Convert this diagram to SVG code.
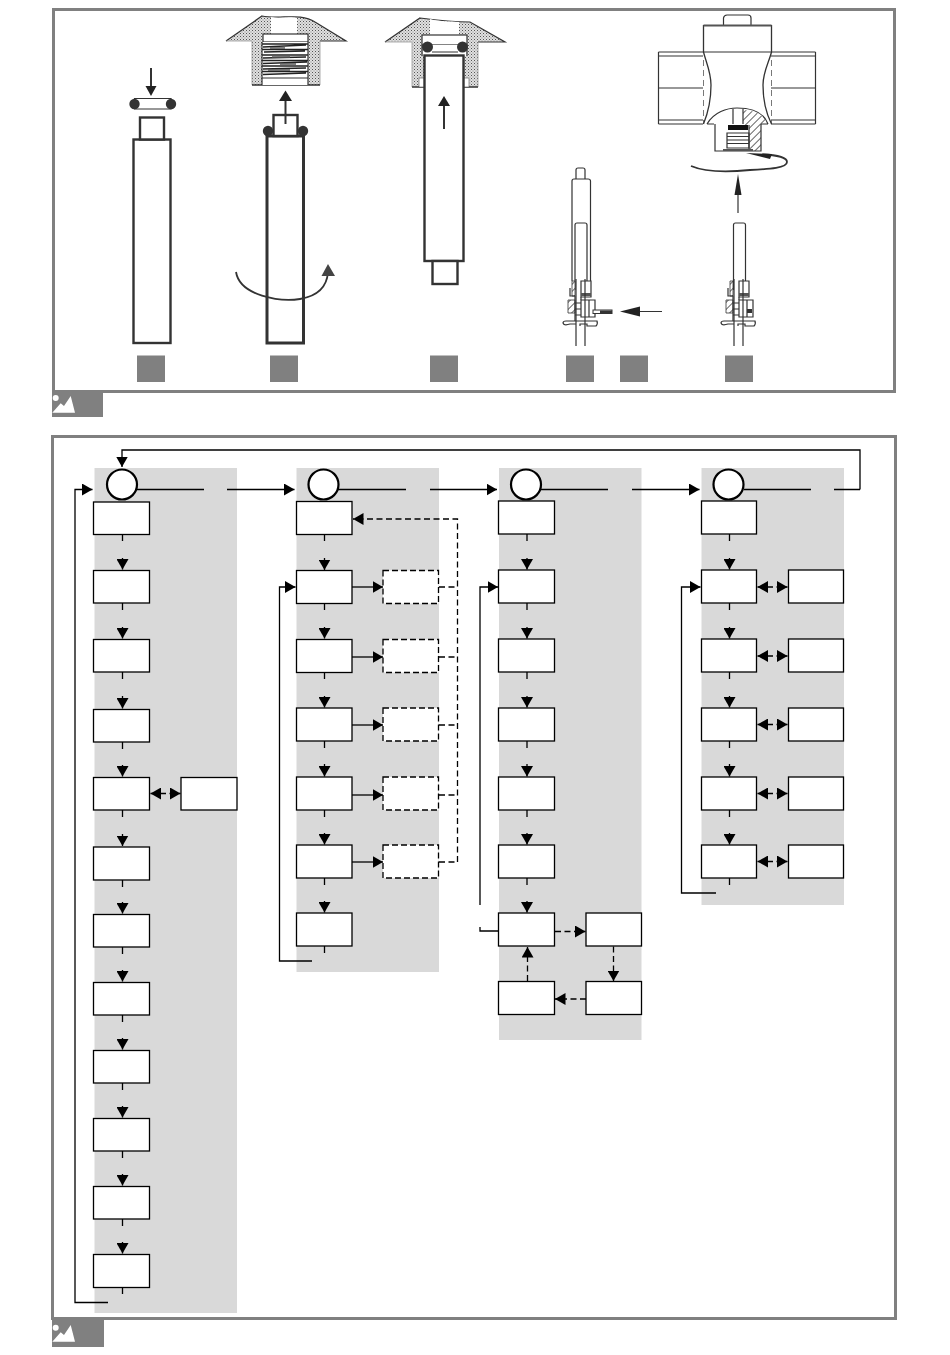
<svg xmlns="http://www.w3.org/2000/svg" width="950" height="1355" viewBox="0 0 950 1355">
<style>
.frame{fill:none;stroke:#808080;stroke-width:3}
.badge{fill:#808080}
.lane{fill:#d9d9d9}
.b{fill:#fff;stroke:#000;stroke-width:1.3}
.bd{fill:#fff;stroke:#000;stroke-width:1.3;stroke-dasharray:6 3}
.o{fill:#fff;stroke:#000;stroke-width:2.2}
.c{fill:none;stroke:#000;stroke-width:1.3}
.d{fill:none;stroke:#000;stroke-width:1.3;stroke-dasharray:6 3.5}
.a{marker-end:url(#ah)}
.aa{marker-start:url(#ah);marker-end:url(#ah)}
.t{fill:#fff;stroke:#333;stroke-width:2.4}
.l{fill:none;stroke:#333;stroke-width:1.2}
.lw{fill:#fff;stroke:#333;stroke-width:1.2}
.st{fill:url(#stip);stroke:none}
.dot{fill:#333}
.k{fill:#222;stroke:none}
.g{fill:none;stroke:#333;stroke-width:2}
.sq{fill:#808080}
</style>
<defs>
<marker id="ah" markerUnits="userSpaceOnUse" markerWidth="11" markerHeight="12" refX="10.5" refY="6" orient="auto-start-reverse"><path d="M0 0L10.500 6L0 12z" fill="#000"/></marker>
<pattern id="stip" width="3" height="3" patternUnits="userSpaceOnUse"><rect width="3" height="3" fill="#e0e0e0"/><rect width="1" height="1" fill="#555"/><rect x="1.500" y="1.500" width="1" height="1" fill="#888"/></pattern>
<pattern id="hat" width="5" height="5" patternUnits="userSpaceOnUse" patternTransform="rotate(-45)"><rect width="5" height="5" fill="#fff"/><rect width="5" height="1" fill="#666"/></pattern>
<g id="fit">
<path d="M572 281h3v15h-3zM568 300h7v13h-7z" fill="url(#hat)" stroke="#333" stroke-width=".8"/>
<path class="lw" d="M581 281h10v16h-10z"/>
<path class="l" d="M570 288v8h5M575 296v25M581 297v3"/>
<rect x="581" y="293" width="10" height="3" fill="#555"/>
<path class="lw" d="M581 300h14v17h-14z"/>
<path class="l" d="M575 303h6M575 309h6M575 315h6M589 300v17"/>
<path class="lw" d="M566 321h31q1 3-1 5h-9v-2h-7v2M576 324h-6q-6 2-7-1q0-2 3-2"/>
<path class="l" d="M576 279V346M585 279V346"/>
</g>
</defs>

<g id="figure-1">
<rect class="frame" x="53.500" y="9.500" width="841" height="382"/>
<rect x="52" y="392" width="51" height="25" class="badge"/><circle cx="55.700" cy="398" r="3" fill="#fff"/><path d="M52.300 412.700L60.700 403.300L64 406L70.700 396L75 412.700z" fill="#fff"/>
</g>

<g id="step-1">
<rect class="sq" x="137" y="355.500" width="28" height="26.500"/>
<rect class="t" x="133.500" y="139.500" width="37" height="203.500"/>
<rect class="t" x="140" y="117.500" width="24" height="22"/>
<path class="lw" d="M134.500 98.500H171V109H134.500z"/>
<circle class="dot" cx="134.500" cy="104" r="5.200"/><circle class="dot" cx="171" cy="104" r="5.200"/>
<path class="g" d="M151 68V88"/><path class="k" d="M145.500 86H156.500L151 96z"/>
</g>

<g id="step-2">
<rect class="sq" x="270" y="355.500" width="28" height="26.500"/>
<rect fill="#fff" stroke="#333" stroke-width="3" x="267" y="136" width="36.500" height="207"/>
<rect class="t" x="273.500" y="115" width="24" height="21"/>
<circle class="dot" cx="268" cy="131" r="5.200"/><circle class="dot" cx="303" cy="131" r="5.200"/>
<path class="g" d="M285.500 124V100" stroke-width="2.500"/><path class="k" d="M279 101H292L285.500 90.500z"/>
<path d="M226 41L262 16C280 20 300 12 315 22L346 41H320V85H252V41z" class="st"/>
<path class="l" d="M226 41L262 16C280 20 300 12 315 22L346 41H320"/>
<path d="M252 41H226M252 41V85M320 41V85" stroke="#999" stroke-width=".8" fill="none"/>
<path d="M252 85H320" stroke="#333" stroke-width="1.400"/>
<path d="M271 17C280 19 290 16 297 18V35H271z" fill="#fff"/>
<rect class="lw" x="263" y="34" width="45" height="8"/>
<rect x="262" y="42" width="46" height="36" fill="#fff"/>
<path d="M262 44H308M263 47L306 45M262 49.500H308M264 52L305 51M262 55H308M263 58L306 57M262 60.500H308M263 63.500L307 62M262 66H308M263 69L306 68M262 71.500H308M263 74.500L306 73" fill="none" stroke="#222" stroke-width="1.300"/>
<path d="M270 48H285M272 57H290M280 64H296M268 70H290" stroke="#555" stroke-width="1.500"/>
<rect x="262" y="78" width="46" height="7" fill="#fff"/>
<path class="l" d="M262 78H308M262 42V85M308 42V85"/>
<path class="l" d="M236 272C240 296 280 302 300 299C318 296 327 286 328 272" style="stroke-width:1.800"/>
<path d="M321.500 276H335L328 264z" fill="#444"/>
</g>

<g id="step-3">
<rect class="sq" x="430" y="355.500" width="28" height="26.500"/>
<path d="M385 42L420 18C435 20 455 22 470 22L505 42H478V87H412V42z" class="st"/>
<path class="l" d="M385 42L420 18C435 20 455 22 470 22L505 42H478"/>
<path d="M385 42H412M412 42V87M478 42V87" stroke="#999" stroke-width=".8" fill="none"/>
<path d="M412 87H478" stroke="#333" stroke-width="1.400"/>
<path d="M430 19C440 22 450 21 459 22V35H430z" fill="#fff"/>
<rect x="419" y="78" width="6" height="9" fill="#fff" stroke="#555" stroke-width=".6"/><rect x="463" y="78" width="6" height="9" fill="#fff" stroke="#555" stroke-width=".6"/>
<rect class="lw" x="422" y="35" width="45" height="10"/>
<rect x="423" y="45" width="43" height="11" fill="#fff"/>
<path class="l" d="M422 45V56M467 45V56M432 52H458"/>
<circle class="dot" cx="427.500" cy="47" r="5.500"/><circle class="dot" cx="462.500" cy="47" r="5.500"/>
<rect class="t" x="424.500" y="55.500" width="39" height="205.500"/>
<rect class="t" x="432.500" y="261" width="25" height="23"/>
<path class="g" d="M444 129V105" stroke-width="2.500"/><path class="k" d="M438 106H450L444 96z"/>
</g>

<g id="step-4">
<rect class="sq" x="566" y="355.500" width="28" height="26.500"/>
<rect class="sq" x="620" y="355.500" width="28" height="26.500"/>
<path class="l" d="M576 179V170Q576 168 578 168H583Q585 168 585 170V179"/>
<path class="lw" d="M572 281V181Q572 179 574 179H588Q590.500 179 590.500 181V281"/>
<path class="lw" d="M575 290V225Q575 223 577 223H585Q587 223 587 225V281"/>
<use href="#fit"/>
<rect x="593" y="310" width="19" height="3.500" fill="#fff" stroke="#333" stroke-width="1"/>
<rect x="600" y="310.500" width="12" height="2.500" fill="#333"/>
<path class="l" d="M662 311.500H625"/><path class="k" d="M620 311.500L640 306.500V316.500z"/>
</g>

<g id="step-5">
<rect class="sq" x="725" y="355.500" width="28" height="26.500"/>
<path class="lw" d="M733.500 290V225Q733.500 223 735.500 223H743.500Q745.500 223 745.500 225V281"/>
<use href="#fit" x="158"/>
<rect x="747" y="309" width="5" height="4" fill="#333"/>
<path d="M703.500 25H771.500V52H703.500z" fill="#fff"/>
<path class="l" d="M723.500 25V18Q724 15 727 15H748Q751 15 751 18V25"/>
<path class="l" d="M658.500 52H703M658.500 56H703M658.500 88H703M658.500 120H703M658.500 124H703M658.500 52V124M771 52H815.500M771 56H815.500M771 88H815.500M771 120H815.500M771 124H815.500M815.500 52V124"/>
<path d="M703.500 60V124M771.500 60V124" fill="none" stroke="#555" stroke-width=".8" stroke-dasharray="6 4"/>
<path class="l" d="M703.500 25V52C706 62 711 72 711 85C711 100 708 113 703.500 124M771.500 25V52C769 62 763 72 763 85C763 100 766 113 771.500 124" style="stroke-width:1.300"/>
<path d="M703.500 52H771.500" stroke="#333" stroke-width="1.200"/>
<rect x="703.500" y="24.500" width="68" height="2" fill="#555"/>
<path d="M743 110C754 110 764 115 768 124H761V151H749V125H743z" fill="url(#hat)"/>
<path class="l" d="M707 124C714 112 727 108 737 108C752 108 764 113 768 124M714 124H707M761 124H768M715 124V151H761V124M749 125V151M733 109V124M743 109V124"/>
<rect x="728" y="125" width="20" height="5" fill="#111"/>
<path class="l" d="M727 133H749V148H727zM727 136.500H749M727 140H749M727 143.500H749"/>
<rect x="723" y="149" width="30" height="2" fill="#555"/>
<path class="l" d="M691 166C705 172 730 172 750 170C770 169 787 168 787 162C787 158 778 155 762 154.500" style="stroke-width:1.800"/>
<path class="k" d="M746 153L772 154L770 159z"/>
<path class="l" d="M738 213V190"/><path class="k" d="M738 174L741.500 195H734.500z"/>
</g>

<g id="figure-2">
<rect class="frame" x="52.500" y="436.500" width="843" height="882"/>
<rect x="52" y="1320" width="52" height="27" class="badge"/>
<circle cx="55.700" cy="1327.700" r="3" fill="#fff"/><path d="M52.300 1341.700L60.700 1332.300L64 1335L70.700 1325L75 1341.700z" fill="#fff"/>
</g>

<g id="lanes">
<rect class="lane" x="94.500" y="468" width="142.500" height="845"/>
<rect class="lane" x="296.500" y="468" width="142.500" height="504"/>
<rect class="lane" x="499" y="468" width="142.500" height="572"/>
<rect class="lane" x="701.500" y="468" width="142.500" height="437"/>
</g>

<g id="connectors">
<path class="c a" d="M860 489.500V450H122V467"/>
<path class="c" d="M137 489.500H204"/><path class="c a" d="M227 489.500H294.500"/>
<path class="c" d="M338 489.500H406"/><path class="c a" d="M430 489.500H497"/>
<path class="c" d="M541 489.500H608"/><path class="c a" d="M632 489.500H699.500"/>
<path class="c" d="M744 489.500H811M834 489.500H860"/>
<path class="c a" d="M108 1302.500H75V489.500H92.500"/>
<path class="c a" d="M312 961H279.500V587H295.500"/>
<path class="c a" d="M480 905V587H498"/>
<path class="c" d="M498.500 931H480V927"/>
<path class="c a" d="M716 893H681.500V587H700.500"/>

<path class="c a" d="M122.500 534V541M122.500 558V569.500"/>
<path class="c a" d="M122.500 603V610M122.500 627V638.500"/>
<path class="c a" d="M122.500 672V679M122.500 696V708.500"/>
<path class="c a" d="M122.500 742V749M122.500 765V776.500"/>
<path class="c a" d="M122.500 810V817M122.500 834V846"/>
<path class="c a" d="M122.500 880V887M122.500 902V913.500"/>
<path class="c a" d="M122.500 947V954M122.500 970V981.500"/>
<path class="c a" d="M122.500 1015V1022M122.500 1038V1049.500"/>
<path class="c a" d="M122.500 1083V1090M122.500 1106V1117.500"/>
<path class="c a" d="M122.500 1151V1158M122.500 1174V1185.500"/>
<path class="c a" d="M122.500 1219V1226M122.500 1242V1253.500"/>
<path class="c" d="M122.500 1287.500V1294"/>
<path class="d aa" d="M150.500 793.500H180.500"/>

<path class="c a" d="M324.500 534.500V541M324.500 558V570"/>
<path class="c a" d="M324.500 603.500V610M324.500 627V638.500"/>
<path class="c a" d="M324.500 672.500V679M324.500 696V707.500"/>
<path class="c a" d="M324.500 741V748M324.500 764V776.500"/>
<path class="c a" d="M324.500 810V817M324.500 833V844.500"/>
<path class="c a" d="M324.500 878V885M324.500 901V912.500"/>
<path class="c" d="M324.500 946V953"/>
<path class="c a" d="M352 587H383"/><path class="c a" d="M352 657H383"/><path class="c a" d="M352 725H383"/><path class="c a" d="M352 795H383"/><path class="c a" d="M352 862H383"/>
<path class="d" d="M439 587H457.500M439 657H457.500M439 725H457.500M439 795H457.500M439 862H457.500"/>
<path class="d a" d="M457.500 862V519H353"/>

<path class="c a" d="M527 534V541M527 558V569.500"/>
<path class="c a" d="M527 603V610M527 627V638.500"/>
<path class="c a" d="M527 672V679M527 696V707.500"/>
<path class="c a" d="M527 741V748M527 764V776.500"/>
<path class="c a" d="M527 810V817M527 833V844.500"/>
<path class="c a" d="M527 878V885M527 901V912.500"/>
<path class="d a" d="M555 931.500H585.500"/>
<path class="d a" d="M613.500 946.500V981"/>
<path class="d a" d="M586 999H555"/>
<path class="d a" d="M527.500 981V947"/>

<path class="c a" d="M729.500 534V541M729.500 558V569.500"/>
<path class="c a" d="M729.500 603V610M729.500 627V638.500"/>
<path class="c a" d="M729.500 672V679M729.500 696V707.500"/>
<path class="c a" d="M729.500 741V748M729.500 764V776.500"/>
<path class="c a" d="M729.500 810V817M729.500 833V844.500"/>
<path class="c" d="M729.500 878V885"/>
<path class="d aa" d="M757.500 587H787.500"/><path class="d aa" d="M757.500 656H787.500"/><path class="d aa" d="M757.500 724.500H787.500"/><path class="d aa" d="M757.500 793.500H787.500"/><path class="d aa" d="M757.500 861.500H787.500"/>
</g>

<g id="n-a"><circle class="o" cx="122" cy="484.500" r="15"/></g>
<g id="n-a1"><rect class="b" x="93.500" y="502" width="56" height="32.500"/></g>
<g id="n-a2"><rect class="b" x="93.500" y="570.500" width="56" height="32.500"/></g>
<g id="n-a3"><rect class="b" x="93.500" y="639.500" width="56" height="32.500"/></g>
<g id="n-a4"><rect class="b" x="93.500" y="709.500" width="56" height="32.500"/></g>
<g id="n-a5"><rect class="b" x="93.500" y="777.500" width="56" height="32.500"/></g>
<g id="n-a5s"><rect class="b" x="181" y="777.500" width="56" height="32.500"/></g>
<g id="n-a6"><rect class="b" x="93.500" y="847" width="56" height="33"/></g>
<g id="n-a7"><rect class="b" x="93.500" y="914.500" width="56" height="32.500"/></g>
<g id="n-a8"><rect class="b" x="93.500" y="982.500" width="56" height="32.500"/></g>
<g id="n-a9"><rect class="b" x="93.500" y="1050.500" width="56" height="32.500"/></g>
<g id="n-a10"><rect class="b" x="93.500" y="1118.500" width="56" height="32.500"/></g>
<g id="n-a11"><rect class="b" x="93.500" y="1186.500" width="56" height="32.500"/></g>
<g id="n-a12"><rect class="b" x="93.500" y="1254.500" width="56" height="33"/></g>

<g id="n-b"><circle class="o" cx="323.500" cy="484.500" r="15"/></g>
<g id="n-b1"><rect class="b" x="296.500" y="501.500" width="55.500" height="33"/></g>
<g id="n-b2"><rect class="b" x="296.500" y="570.500" width="55.500" height="33"/></g>
<g id="n-b3"><rect class="b" x="296.500" y="639.500" width="55.500" height="33"/></g>
<g id="n-b4"><rect class="b" x="296.500" y="708" width="55.500" height="33"/></g>
<g id="n-b5"><rect class="b" x="296.500" y="777" width="55.500" height="33"/></g>
<g id="n-b6"><rect class="b" x="296.500" y="845" width="55.500" height="33"/></g>
<g id="n-b7"><rect class="b" x="296.500" y="913" width="55.500" height="33"/></g>
<g id="n-b2s"><rect class="bd" x="383" y="570.500" width="55.500" height="33"/></g>
<g id="n-b3s"><rect class="bd" x="383" y="639.500" width="55.500" height="33"/></g>
<g id="n-b4s"><rect class="bd" x="383" y="708" width="55.500" height="33"/></g>
<g id="n-b5s"><rect class="bd" x="383" y="777" width="55.500" height="33"/></g>
<g id="n-b6s"><rect class="bd" x="383" y="845" width="55.500" height="33"/></g>

<g id="n-c"><circle class="o" cx="526" cy="484.500" r="15"/></g>
<g id="n-c1"><rect class="b" x="498.500" y="501" width="56" height="33"/></g>
<g id="n-c2"><rect class="b" x="498.500" y="570" width="56" height="33"/></g>
<g id="n-c3"><rect class="b" x="498.500" y="639" width="56" height="33"/></g>
<g id="n-c4"><rect class="b" x="498.500" y="708" width="56" height="33"/></g>
<g id="n-c5"><rect class="b" x="498.500" y="777" width="56" height="33"/></g>
<g id="n-c6"><rect class="b" x="498.500" y="845" width="56" height="33"/></g>
<g id="n-c7"><rect class="b" x="498.500" y="913" width="56" height="33"/></g>
<g id="n-c8"><rect class="b" x="586" y="913" width="55.500" height="33"/></g>
<g id="n-c9"><rect class="b" x="586" y="981.500" width="55.500" height="33"/></g>
<g id="n-c10"><rect class="b" x="498.500" y="981.500" width="56" height="33"/></g>

<g id="n-d"><circle class="o" cx="728.500" cy="484.500" r="15"/></g>
<g id="n-d1"><rect class="b" x="701.500" y="501" width="55" height="33"/></g>
<g id="n-d2"><rect class="b" x="701.500" y="570" width="55" height="33"/></g>
<g id="n-d3"><rect class="b" x="701.500" y="639" width="55" height="33"/></g>
<g id="n-d4"><rect class="b" x="701.500" y="708" width="55" height="33"/></g>
<g id="n-d5"><rect class="b" x="701.500" y="777" width="55" height="33"/></g>
<g id="n-d6"><rect class="b" x="701.500" y="845" width="55" height="33"/></g>
<g id="n-d2s"><rect class="b" x="788.500" y="570" width="55" height="33"/></g>
<g id="n-d3s"><rect class="b" x="788.500" y="639" width="55" height="33"/></g>
<g id="n-d4s"><rect class="b" x="788.500" y="708" width="55" height="33"/></g>
<g id="n-d5s"><rect class="b" x="788.500" y="777" width="55" height="33"/></g>
<g id="n-d6s"><rect class="b" x="788.500" y="845" width="55" height="33"/></g>
</svg>
